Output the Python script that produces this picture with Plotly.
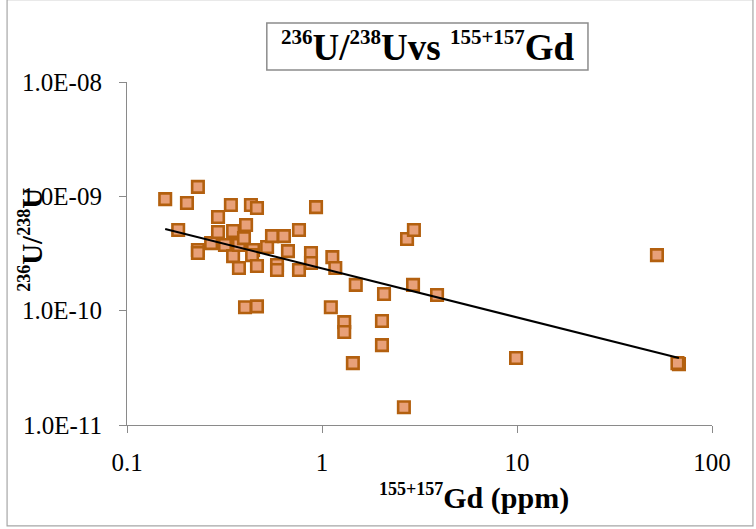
import numpy as np
import plotly.graph_objects as go

# Gd concentration (ppm) and 236U/238U ratio
gd_ppm = [0.157, 0.183, 0.203, 0.231, 0.231, 0.231, 0.270, 0.293, 0.293, 0.318,
          0.341, 0.350, 0.350, 0.375, 0.375, 0.398, 0.408, 0.403, 0.432, 0.443,
          0.438, 0.464, 0.464, 0.464, 0.523, 0.554, 0.588, 0.588, 0.638, 0.669,
          0.762, 0.762, 0.878, 0.878, 0.932, 1.13, 1.17, 1.11, 1.30, 1.30,
          1.44, 1.49, 2.03, 2.03, 2.08, 2.63, 2.73, 2.96, 2.93, 3.89,
          9.89, 52.2, 67.7, 66.5]
u_ratio = [9.46e-10, 5.07e-10, 8.74e-10, 1.21e-9, 3.39e-10, 3.19e-10, 3.90e-10, 6.59e-10, 4.87e-10, 3.75e-10,
           8.39e-10, 4.97e-10, 3.00e-10, 3.75e-10, 2.36e-10, 4.31e-10, 5.61e-10, 1.07e-10, 8.39e-10, 3.39e-10,
           3.06e-10, 7.90e-10, 2.46e-10, 1.09e-10, 3.60e-10, 4.49e-10, 2.51e-10, 2.27e-10, 4.49e-10, 3.32e-10,
           5.07e-10, 2.27e-10, 3.19e-10, 2.61e-10, 8.05e-10, 2.94e-10, 2.36e-10, 1.07e-10, 7.94e-11, 6.50e-11,
           3.48e-11, 1.68e-10, 8.11e-11, 5.00e-11, 1.40e-10, 1.43e-11, 4.23e-10, 5.07e-10, 1.68e-10, 1.37e-10,
           3.85e-11, 3.06e-10, 3.41e-11, 3.48e-11]

# Power-law trendline endpoints
trend_x = [0.157, 67.7]
trend_y = [5.18e-10, 3.85e-11]

x_tickvals = [0.1, 1, 10, 100]
x_ticktext = ["0.1", "1", "10", "100"]
y_tickvals = [1e-11, 1e-10, 1e-9, 1e-8]
y_ticktext = ["1.0E-11", "1.0E-10", "1.0E-09", "1.0E-08"]

SERIF = "Liberation Serif"
AXIS_GRAY = "#8a8a8a"


def sup(txt, px):
    return f'<sup><span style="font-size:{px}px">{txt}</span></sup>'


fig = go.Figure()
fig.add_trace(go.Scatter(
    x=gd_ppm, y=u_ratio, mode="markers",
    marker=dict(symbol="square", size=11.5, color="#e8a078",
                line=dict(color="#b3600f", width=2.6)),
    showlegend=False, hoverinfo="skip"))
fig.add_trace(go.Scatter(
    x=trend_x, y=trend_y, mode="lines",
    line=dict(color="black", width=2), showlegend=False, hoverinfo="skip"))

fig.update_layout(
    width=756, height=529,
    margin=dict(l=127, r=44, t=82, b=104),
    paper_bgcolor="white", plot_bgcolor="white",
    font=dict(family=SERIF, color="black"),
    xaxis=dict(type="log", range=[-1, 2], tickvals=x_tickvals, ticktext=x_ticktext,
               showgrid=False, zeroline=False, showline=True, linecolor=AXIS_GRAY,
               linewidth=1.2, ticks="outside", ticklen=7, tickcolor=AXIS_GRAY,
               tickfont=dict(family=SERIF, size=25), ticklabelstandoff=8),
    yaxis=dict(type="log", range=[-11, -8], tickvals=y_tickvals, ticktext=y_ticktext,
               showgrid=False, zeroline=False, showline=True, linecolor=AXIS_GRAY,
               linewidth=1.2, ticks="outside", ticklen=7, tickcolor=AXIS_GRAY,
               tickfont=dict(family=SERIF, size=25), ticklabelstandoff=12),
)

# outer chart border
fig.add_shape(type="rect", xref="paper", yref="paper",
              x0=-0.205, x1=1.070, y0=-0.294, y1=1.24,
              line=dict(color="#a6a6a6", width=1.2), fillcolor="rgba(0,0,0,0)", layer="below")
# title box
fig.add_shape(type="rect", xref="paper", yref="paper",
              x0=0.239, x1=0.788, y0=1.035, y1=1.172,
              line=dict(color="#8c8c8c", width=1.5), fillcolor="white")

fig.add_annotation(xref="paper", yref="paper", x=0.5137, y=1.1035,
                   text="<b>" + sup("236", 21) + "U/" + sup("238", 21) + "Uvs " + sup("155+157", 21) + "Gd</b>",
                   showarrow=False, font=dict(family=SERIF, size=37, color="black"),
                   xanchor="center", yanchor="middle")
fig.add_annotation(xref="paper", yref="paper", x=0.594, y=-0.21,
                   text="<b>" + sup("155+157", 18) + "Gd (ppm)</b>",
                   showarrow=False, font=dict(family=SERIF, size=30, color="black"),
                   xanchor="center", yanchor="middle")
fig.add_annotation(xref="paper", yref="paper", x=-0.164, y=0.54,
                   text="<b>" + sup("236", 18) + "U/" + sup("238", 18) + "U</b>", textangle=-90,
                   showarrow=False, font=dict(family=SERIF, size=29, color="black"),
                   xanchor="center", yanchor="middle")

fig.write_html("out.html")
